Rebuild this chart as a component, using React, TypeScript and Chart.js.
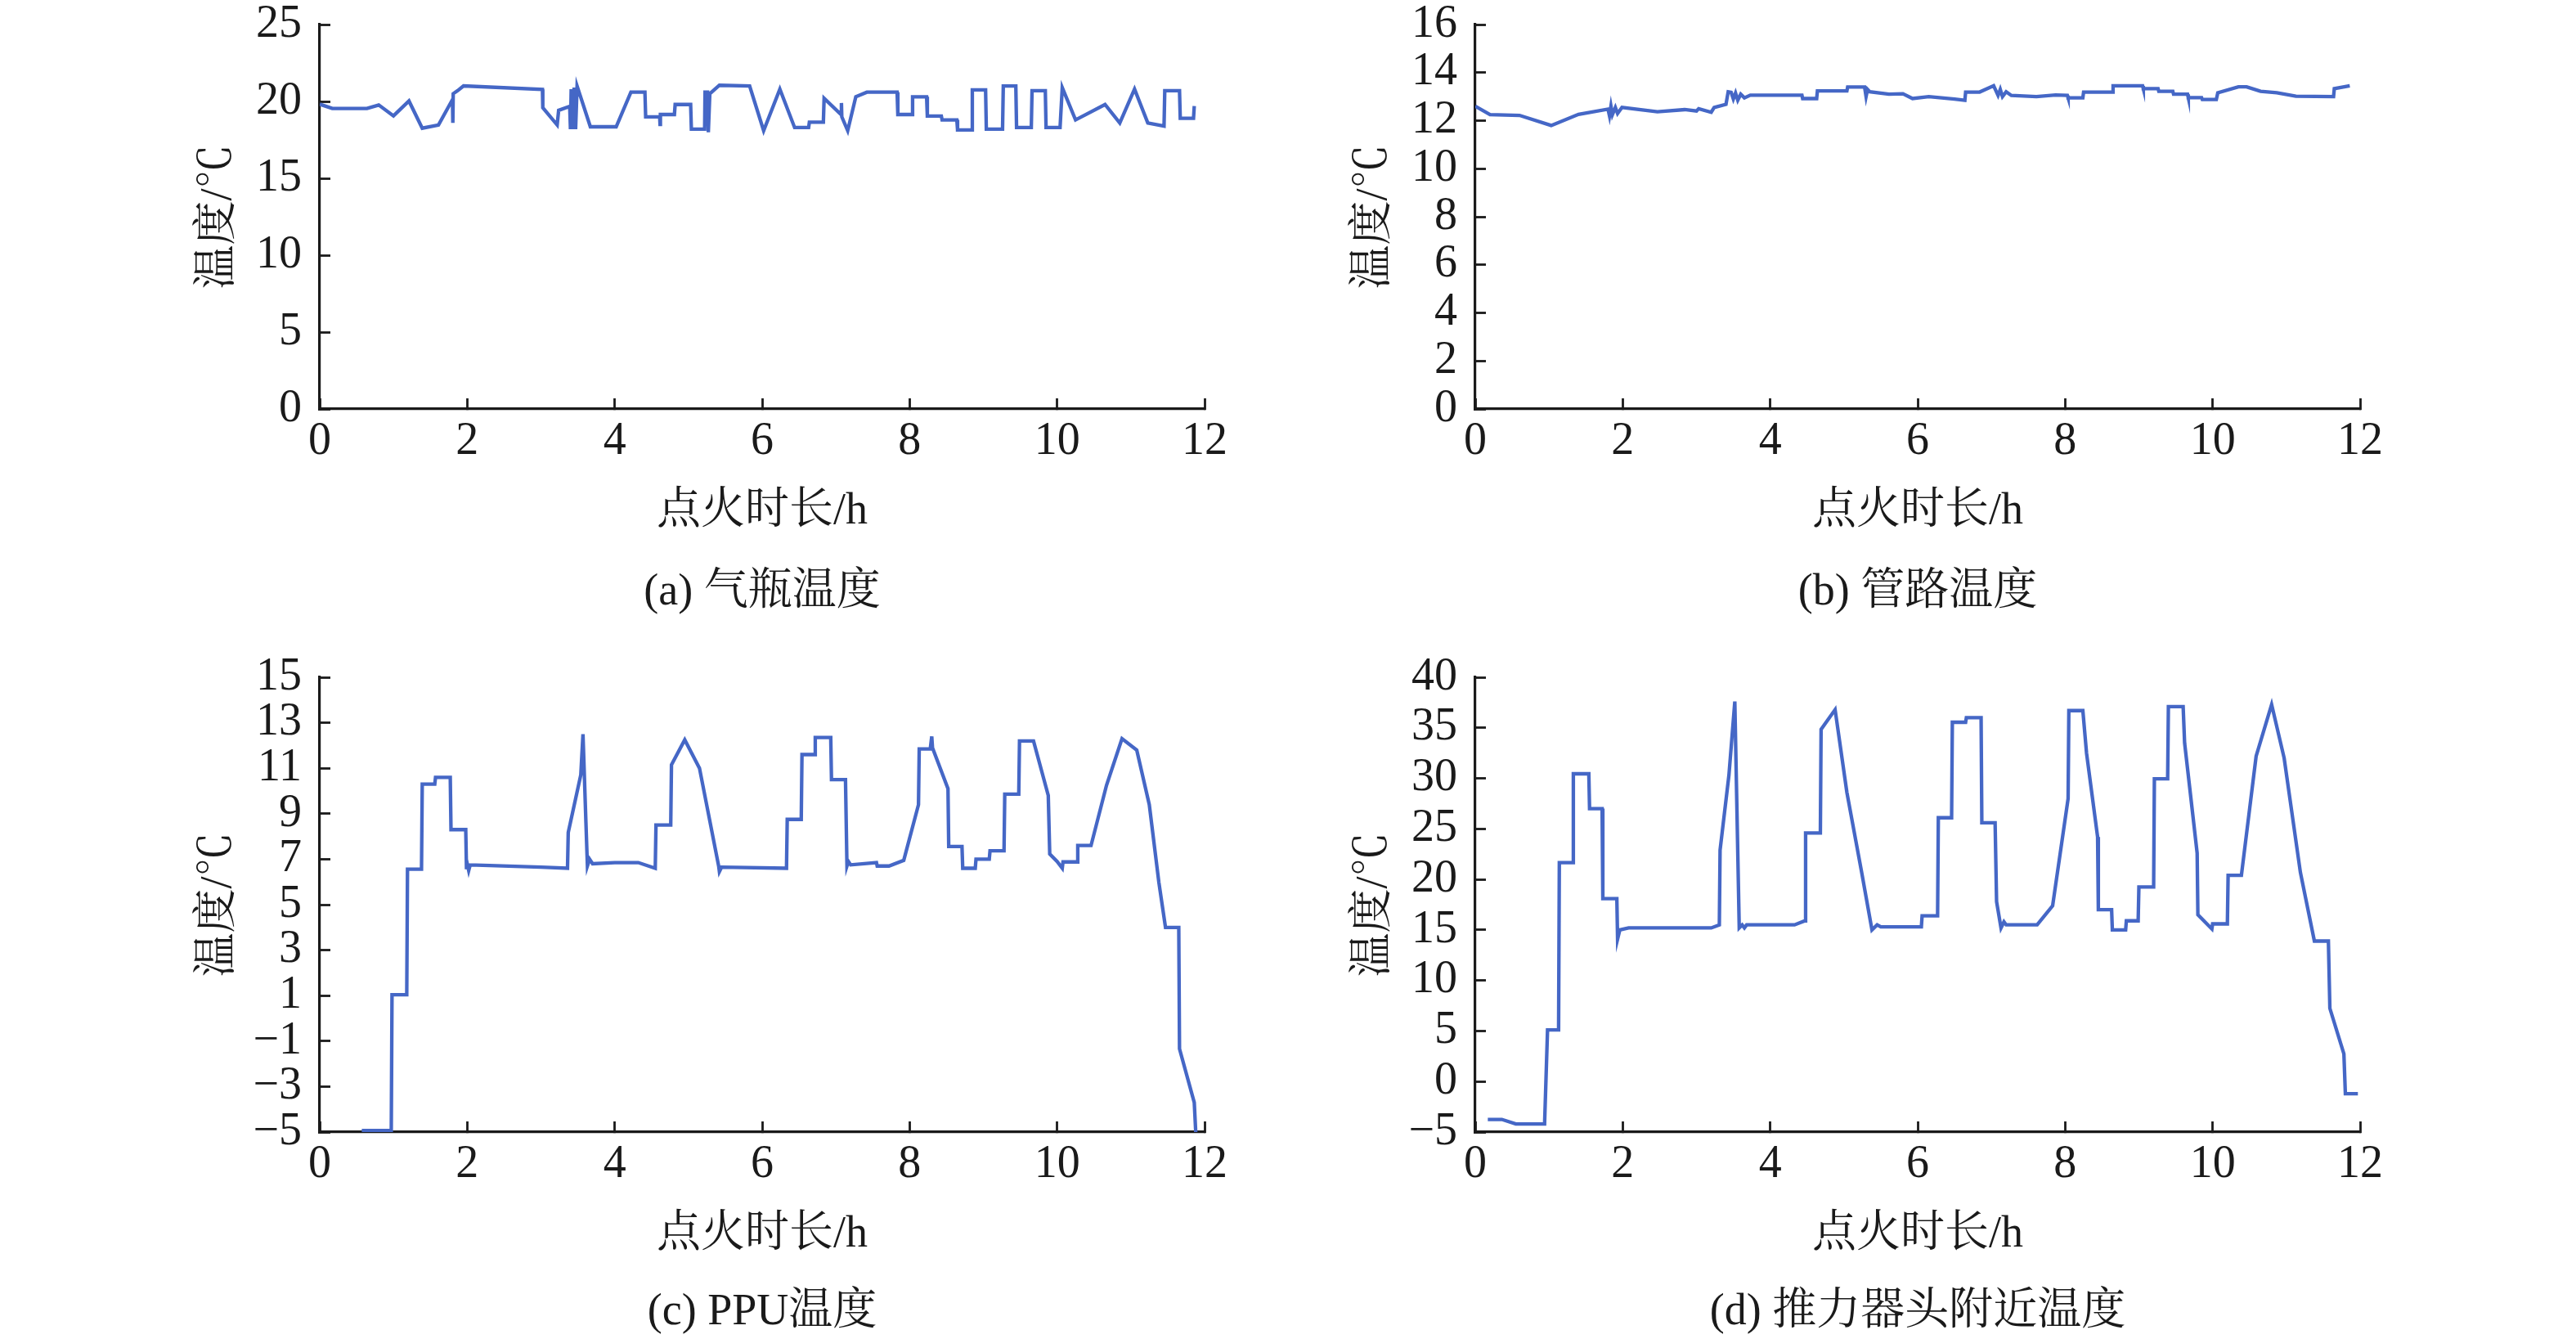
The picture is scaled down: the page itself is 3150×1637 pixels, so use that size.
import React, { useEffect, useRef } from "react";
import { Chart, registerables } from "chart.js";

Chart.register(...registerables);

const FONT = '"Liberation Serif", "Noto Serif CJK SC", "Noto Sans CJK SC", serif';
const LINE_COLOR = "#4567c6";
const INK = "#1a1a1a";

const X_TITLE = "点火时长/h";
const Y_TITLE = "温度/℃";
const X_MIN = 0;
const X_MAX = 12;
const X_STEP = 2;

// (a) 气瓶温度
const aTime = [0, 0.17, 0.64, 0.8, 1.0, 1.21, 1.39, 1.61, 1.8, 1.805, 1.81, 1.87, 1.95, 3.02, 3.025, 3.22, 3.24, 3.39, 3.4, 3.41, 3.43, 3.45, 3.47, 3.49, 3.67, 4.02, 4.22, 4.41, 4.42, 4.61, 4.615, 4.62, 4.81, 4.82, 5.03, 5.04, 5.22, 5.225, 5.26, 5.27, 5.29, 5.42, 5.83, 6.02, 6.24, 6.44, 6.63, 6.64, 6.83, 6.84, 7.07, 7.075, 7.08, 7.16, 7.27, 7.42, 7.83, 7.84, 8.03, 8.04, 8.23, 8.24, 8.43, 8.44, 8.64, 8.65, 8.84, 8.85, 9.03, 9.04, 9.26, 9.27, 9.44, 9.45, 9.65, 9.66, 9.84, 9.85, 10.04, 10.07, 10.25, 10.65, 10.85, 11.05, 11.23, 11.45, 11.46, 11.66, 11.67, 11.85, 11.86];
const aTemp = [19.82, 19.54, 19.54, 19.77, 19.06, 20.03, 18.26, 18.47, 20.12, 18.6, 20.5, 20.7, 21.01, 20.78, 19.59, 18.47, 19.42, 19.68, 18.2, 20.8, 18.2, 20.9, 18.2, 21.0, 18.35, 18.35, 20.6, 20.6, 19.0, 19.0, 18.5, 19.15, 19.15, 19.8, 19.8, 18.2, 18.2, 20.6, 20.6, 18.0, 20.5, 21.05, 21.0, 18.1, 20.8, 18.3, 18.3, 18.65, 18.65, 20.2, 19.15, 19.9, 19.0, 18.1, 20.3, 20.6, 20.6, 19.15, 19.15, 20.3, 20.3, 19.05, 19.05, 18.8, 18.8, 18.15, 18.15, 20.75, 20.75, 18.2, 18.2, 21.0, 21.0, 18.3, 18.3, 20.7, 20.7, 18.3, 18.3, 20.9, 18.8, 19.8, 18.6, 20.8, 18.6, 18.4, 20.7, 20.7, 18.9, 18.9, 19.7];

// (b) 管路温度
const bTime = [0, 0.2, 0.6, 1.03, 1.4, 1.8, 1.82, 1.84, 1.86, 1.9, 1.93, 1.99, 2.47, 2.84, 3.0, 3.03, 3.2, 3.24, 3.4, 3.43, 3.47, 3.5, 3.53, 3.56, 3.6, 3.65, 3.73, 4.43, 4.44, 4.63, 4.64, 5.04, 5.05, 5.28, 5.3, 5.32, 5.35, 5.61, 5.8, 5.93, 6.15, 6.5, 6.64, 6.65, 6.84, 7.03, 7.09, 7.12, 7.15, 7.2, 7.27, 7.61, 7.87, 8.03, 8.04, 8.24, 8.25, 8.64, 8.65, 9.05, 9.06, 9.26, 9.27, 9.46, 9.47, 9.66, 9.67, 9.85, 9.86, 10.05, 10.07, 10.35, 10.46, 10.65, 10.87, 11.13, 11.64, 11.65, 11.86];
const bTemp = [12.6, 12.25, 12.22, 11.8, 12.26, 12.48, 12.2, 12.6, 12.25, 12.55, 12.3, 12.55, 12.37, 12.46, 12.4, 12.5, 12.35, 12.55, 12.68, 13.2, 13.18, 12.9, 13.15, 12.85, 13.1, 12.95, 13.06, 13.06, 12.92, 12.92, 13.24, 13.24, 13.4, 13.4, 13.0, 13.3, 13.2, 13.1, 13.12, 12.92, 13.0, 12.9, 12.85, 13.19, 13.19, 13.45, 13.05, 13.3, 13.0, 13.2, 13.05, 13.0, 13.07, 13.05, 12.95, 12.95, 13.19, 13.19, 13.45, 13.45, 13.33, 13.33, 13.22, 13.22, 13.1, 13.1, 12.96, 12.96, 12.88, 12.88, 13.16, 13.41, 13.41, 13.22, 13.16, 13.02, 13.0, 13.33, 13.45];

// (c) PPU温度
const cTime = [0.57, 0.97, 0.98, 1.18, 1.19, 1.38, 1.39, 1.56, 1.57, 1.77, 1.78, 1.98, 1.99, 2.0, 2.02, 2.04, 2.3, 3.0, 3.36, 3.37, 3.54, 3.57, 3.61, 3.63, 3.66, 3.7, 4.0, 4.32, 4.55, 4.56, 4.76, 4.77, 4.95, 5.15, 5.41, 5.42, 5.45, 6.33, 6.34, 6.53, 6.54, 6.71, 6.72, 6.93, 6.94, 7.13, 7.15, 7.17, 7.2, 7.55, 7.56, 7.72, 7.92, 8.12, 8.13, 8.28, 8.3, 8.31, 8.52, 8.53, 8.71, 8.72, 8.89, 8.9, 9.08, 9.09, 9.28, 9.29, 9.48, 9.49, 9.68, 9.88, 9.9, 10.0, 10.07, 10.08, 10.27, 10.28, 10.46, 10.67, 10.88, 11.08, 11.25, 11.38, 11.47, 11.65, 11.66, 11.86, 11.88];
const cTemp = [-4.93, -4.93, 1.04, 1.04, 6.56, 6.56, 10.3, 10.3, 10.6, 10.6, 8.3, 8.3, 6.56, 6.8, 6.5, 6.75, 6.72, 6.65, 6.6, 8.17, 10.7, 12.5, 8.6, 6.7, 7.0, 6.8, 6.85, 6.85, 6.6, 8.5, 8.5, 11.15, 12.25, 11.0, 6.7, 6.45, 6.65, 6.6, 8.75, 8.75, 11.6, 11.6, 12.35, 12.35, 10.5, 10.5, 6.7, 6.9, 6.75, 6.85, 6.7, 6.7, 6.95, 9.4, 11.85, 11.85, 12.4, 11.9, 10.1, 7.56, 7.56, 6.6, 6.6, 7.0, 7.0, 7.37, 7.37, 9.86, 9.86, 12.2, 12.2, 9.8, 7.23, 6.9, 6.6, 6.88, 6.88, 7.6, 7.6, 10.25, 12.3, 11.8, 9.4, 5.98, 4.0, 4.0, -1.34, -3.7, -5];

// (d) 推力器头附近温度
const dTime = [0.17, 0.36, 0.55, 0.94, 0.98, 1.13, 1.14, 1.32, 1.33, 1.54, 1.55, 1.72, 1.73, 1.92, 1.93, 1.96, 2.08, 3.2, 3.31, 3.32, 3.44, 3.52, 3.58, 3.62, 3.65, 3.68, 4.33, 4.47, 4.48, 4.68, 4.69, 4.88, 5.04, 5.24, 5.38, 5.45, 5.5, 6.05, 6.06, 6.27, 6.28, 6.46, 6.47, 6.65, 6.66, 6.86, 6.87, 7.05, 7.07, 7.13, 7.17, 7.2, 7.62, 7.83, 8.04, 8.05, 8.24, 8.29, 8.44, 8.45, 8.63, 8.64, 8.82, 8.83, 8.99, 9.0, 9.2, 9.21, 9.39, 9.4, 9.6, 9.62, 9.79, 9.8, 9.99, 10.0, 10.2, 10.21, 10.39, 10.59, 10.8, 10.97, 11.19, 11.38, 11.57, 11.59, 11.78, 11.8, 11.97];
const dTemp = [-3.75, -3.75, -4.2, -4.2, 5.1, 5.1, 21.65, 21.65, 30.45, 30.45, 27.0, 27.0, 18.1, 18.1, 14.1, 15.0, 15.2, 15.2, 15.5, 22.9, 30.3, 37.6, 15.2, 15.5, 15.2, 15.5, 15.5, 15.9, 24.6, 24.6, 34.85, 36.8, 28.6, 20.7, 15.0, 15.5, 15.3, 15.3, 16.4, 16.4, 26.1, 26.1, 35.55, 35.55, 36.0, 36.0, 25.6, 25.6, 17.8, 15.2, 15.8, 15.5, 15.5, 17.4, 28.0, 36.7, 36.7, 32.5, 24.2, 17.0, 17.0, 15.0, 15.0, 15.9, 15.9, 19.25, 19.25, 29.96, 29.96, 37.1, 37.1, 33.5, 22.6, 16.5, 15.1, 15.6, 15.6, 20.4, 20.4, 32.2, 37.3, 32.0, 20.7, 13.9, 13.9, 7.24, 2.75, -1.2, -1.2];

const aRange = [0, 25, 5];
const bRange = [0, 16, 2];
const cRange = [-5, 15, 2];
const dRange = [-5, 40, 5];

const captions = ["(a) 气瓶温度", "(b) 管路温度", "(c) PPU温度", "(d) 推力器头附近温度"];

type PanelProps = {
  time: number[];
  temp: number[];
  range: number[];
  left: number;
  top: number;
  width: number;
  height: number;
  padRight: number;
};

const Y_AXIS_W = 164;
const X_AXIS_H = 158;
const FS = 54; // titles and captions
const FS_T = 56; // tick labels
const Y_TICK_PAD = 35;
const TICK_LEN = 13;
const TOP_SHIFT = FS_T / 2 + Y_TICK_PAD; // space Chart.js reserves above plot for the top tick label

function Panel(p: PanelProps) {
  const ref = useRef<HTMLCanvasElement | null>(null);
  useEffect(() => {
    if (!ref.current) return;
    const pts = p.time.map((t, i) => ({ x: t, y: p.temp[i] }));
    const fmt = (v: any) => String(v).replace("-", "−");
    const chart = new Chart(ref.current, {
      type: "line",
      data: {
        datasets: [
          {
            data: pts,
            borderColor: LINE_COLOR,
            borderWidth: 4.3,
            pointRadius: 0,
            fill: false,
            tension: 0,
          },
        ],
      },
      options: {
        animation: false,
        responsive: false,
        devicePixelRatio: 1,
        layout: { padding: { left: 0, top: 0, right: p.padRight, bottom: 0 } },
        plugins: {
          legend: { display: false },
          tooltip: { enabled: false },
          title: { display: false },
        },
        scales: {
          x: {
            type: "linear",
            min: X_MIN,
            max: X_MAX,
            ticks: {
              stepSize: X_STEP,
              autoSkip: false,
              maxRotation: 0,
              padding: 25,
              color: INK,
              font: { family: FONT, size: FS_T, lineHeight: 1 },
              callback: fmt,
            },
            grid: {
              display: true,
              drawOnChartArea: false,
              drawTicks: true,
              tickLength: -TICK_LEN,
              tickWidth: 2.8,
              tickColor: INK,
              color: INK,
            },
            border: { display: true, width: 3.2, color: INK },
            title: {
              display: true,
              text: X_TITLE,
              color: INK,
              padding: 0,
              font: { family: FONT, size: FS, lineHeight: 1.2 },
            },
            afterFit: (s: any) => {
              s.height = X_AXIS_H;
            },
          },
          y: {
            type: "linear",
            min: p.range[0],
            max: p.range[1],
            ticks: {
              stepSize: p.range[2],
              autoSkip: false,
              padding: Y_TICK_PAD,
              color: INK,
              font: { family: FONT, size: FS_T, lineHeight: 1 },
              callback: fmt,
            },
            grid: {
              display: true,
              drawOnChartArea: false,
              drawTicks: true,
              tickLength: -TICK_LEN,
              tickWidth: 2.8,
              tickColor: INK,
              color: INK,
            },
            border: { display: true, width: 3.2, color: INK },
            title: {
              display: true,
              text: Y_TITLE,
              color: INK,
              padding: { top: 8, bottom: 0 },
              font: { family: FONT, size: FS, lineHeight: 1.2 },
            },
            afterFit: (s: any) => {
              s.width = Y_AXIS_W;
            },
          },
        },
      } as any,
    });
    return () => chart.destroy();
  }, []);
  return (
    <canvas
      ref={ref}
      width={p.width}
      height={p.height}
      style={{ position: "absolute", left: p.left, top: p.top, width: p.width, height: p.height }}
    />
  );
}

function Caption({ text, cx, cy }: { text: string; cx: number; cy: number }) {
  return (
    <div
      style={{
        position: "absolute",
        left: cx - 600,
        width: 1200,
        top: cy - 32,
        height: 64,
        lineHeight: "64px",
        textAlign: "center",
        fontFamily: FONT,
        fontSize: FS,
        color: INK,
        whiteSpace: "nowrap",
      }}
    >
      {text}
    </div>
  );
}

export default function App() {
  // plot areas: top row 30..500, bottom row 828..1384; left col 391..1473, right col 1804..2886
  const leftColL = 391 - Y_AXIS_W;
  const rightColL = 1804 - Y_AXIS_W;
  const padR = 77;
  const wL = 1473 + padR - leftColL;
  const wR = 2886 + padR - rightColL;
  const topRowT = 30 - TOP_SHIFT;
  const hTop = TOP_SHIFT + (500 - 30) + X_AXIS_H;
  const botRowT = 828 - TOP_SHIFT;
  const hBot = TOP_SHIFT + (1384 - 828) + X_AXIS_H;
  return (
    <div style={{ position: "absolute", left: 0, top: 0, width: 3150, height: 1637, background: "#ffffff", overflow: "hidden" }}>
      <Panel time={aTime} temp={aTemp} range={aRange} left={leftColL} top={topRowT} width={wL} height={hTop} padRight={padR} />
      <Panel time={bTime} temp={bTemp} range={bRange} left={rightColL} top={topRowT} width={wR} height={hTop} padRight={padR} />
      <Panel time={cTime} temp={cTemp} range={cRange} left={leftColL} top={botRowT} width={wL} height={hBot} padRight={padR} />
      <Panel time={dTime} temp={dTemp} range={dRange} left={rightColL} top={botRowT} width={wR} height={hBot} padRight={padR} />
      <Caption text={captions[0]} cx={932} cy={721} />
      <Caption text={captions[1]} cx={2345} cy={721} />
      <Caption text={captions[2]} cx={932} cy={1601} />
      <Caption text={captions[3]} cx={2345} cy={1601} />
    </div>
  );
}
